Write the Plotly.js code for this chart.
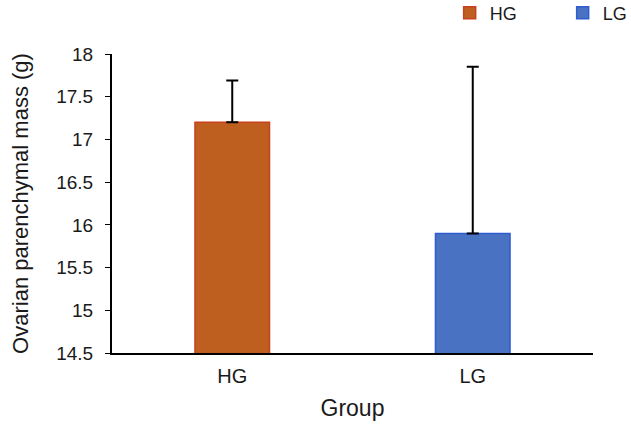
<!DOCTYPE html>
<html><head><meta charset="utf-8">
<script src="https://cdn.plot.ly/plotly-3.0.1.min.js"></script>
<style>body{margin:0;padding:0;background:#fff}#chart{width:631px;height:430px}</style>
</head><body><div id="chart"></div>
<script>
const groups = ["HG", "LG"];
const means = [17.2, 15.9];
const errPlus = [0.49, 1.95];
const fillColors = ["#BE5F1F", "#4A72C2"];
const lineColors = ["#C8401E", "#2F5CD0"];

const traces = groups.map((g, i) => ({
  type: "bar",
  name: g,
  x: [g],
  y: [means[i]],
  base: 0,
  marker: {color: fillColors[i], line: {color: lineColors[i], width: 1.5}},
  error_y: {type: "data", symmetric: false, array: [errPlus[i]], arrayminus: [0], color: "#000", thickness: 2, width: 6},
  width: 0.31
}));

const layout = {
  width: 631, height: 430,
  margin: {l: 112, r: 38, t: 54, b: 77, autoexpand: false},
  paper_bgcolor: "#fff", plot_bgcolor: "#fff",
  font: {family: "Arial, 'Liberation Sans', sans-serif", color: "#1a1a1a", size: 18},
  showlegend: true,
  barmode: "overlay",
  legend: {orientation: "h", x: 0.702, xanchor: "left", y: 1.137, yanchor: "middle", font: {size: 18}, entrywidth: 68, entrywidthmode: "pixels", traceorder: "normal", bgcolor: "rgba(0,0,0,0)"},
  xaxis: {
    type: "category", categoryorder: "array", categoryarray: groups,
    showline: true, linecolor: "#000", linewidth: 2, ticks: "", showgrid: false, zeroline: false,
    tickfont: {size: 20}, ticklen: 0, ticklabelstandoff: 4, automargin: false,
    title: {text: "Group", font: {size: 23}, standoff: 14}
  },
  yaxis: {
    range: [14.5, 18], dtick: 0.5, tick0: 14.5, automargin: false,
    showline: true, linecolor: "#000", linewidth: 2, ticks: "outside", ticklen: 5, tickcolor: "#000", tickwidth: 1,
    showgrid: false, zeroline: false, tickfont: {size: 19}, ticklabelstandoff: 8,
    title: {text: "Ovarian parenchymal mass (g)", font: {size: 22}, standoff: 22}
  }
};
Plotly.newPlot("chart", traces, layout, {displayModeBar: false});
</script></body></html>
